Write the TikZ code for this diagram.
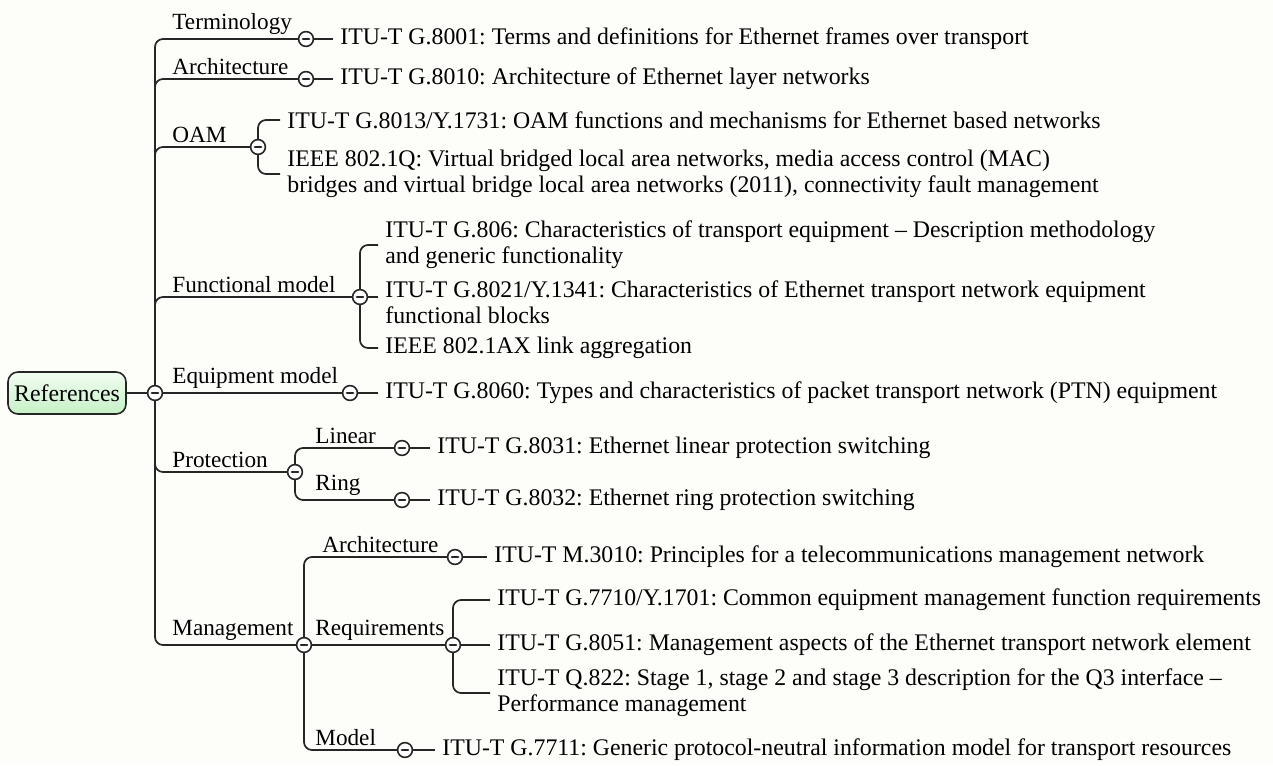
\documentclass[tikz,border=0pt]{standalone}
\usepackage{fontspec}
\setmainfont{Liberation Serif}
\definecolor{bg}{HTML}{FDFDFA}
\definecolor{lnc}{HTML}{262626}
\definecolor{gtop}{HTML}{F2FDF2}
\definecolor{gbot}{HTML}{C6F1C6}
\begin{document}
\frenchspacing
\begin{tikzpicture}[x=0.5pt,y=-0.5pt,
  every node/.style={font=\fontsize{11.9}{13}\selectfont\frenchspacing, text=black},
  conn/.style={draw=lnc, line width=0.85pt, rounded corners=4pt},
  tog/.style={circle, draw=lnc, fill=white, line width=0.8pt, minimum size=7.4pt, inner sep=0pt,
    path picture={\draw[line width=1.1pt, line cap=round]
      ([xshift=-1.6pt]path picture bounding box.center) -- ([xshift=1.6pt]path picture bounding box.center);}},
  lbl/.style={anchor=south west, inner xsep=0pt, inner ysep=2pt, font=\fontsize{11.6}{13}\selectfont},
  ref/.style={anchor=west, inner xsep=3.5pt, inner ysep=0pt, align=left},
  rootbox/.style={draw=lnc, line width=0.8pt, rounded corners=5pt, minimum width=59pt,
    minimum height=21pt, inner sep=0pt, top color=gtop, bottom color=gbot}]
\fill[bg] (0,0) rectangle (1273,765);

% root
\node[rootbox] (root) at (67,393) {References};
\node[tog] (rc) at (155,393) {};

% Terminology
\node[tog] (c1) at (306,39) {};
\node[lbl] (l1) at (172,39) {Terminology};
\node[ref] (t1) at (333,39) {ITU-T G.8001: Terms and definitions for Ethernet frames over transport};

% Architecture
\node[tog] (c2) at (306,79) {};
\node[lbl] (l2) at (172,79) {Architecture};
\node[ref] (t2) at (333,79) {ITU-T G.8010: Architecture of Ethernet layer networks};

% OAM
\node[tog] (c3) at (258,147) {};
\node[lbl] (l3) at (172,147) {OAM};
\node[ref] (t3a) at (280,120) {ITU-T G.8013/Y.1731: OAM functions and mechanisms for Ethernet based networks};
\node[ref] (t3b) at (280,174) {IEEE 802.1Q: Virtual bridged local area networks, media access control (MAC)\\bridges and virtual bridge local area networks (2011), connectivity fault management};

% Functional model
\node[tog] (c4) at (360,297) {};
\node[lbl] (l4) at (172,297) {Functional model};
\node[ref] (t4a) at (378,245) {ITU-T G.806: Characteristics of transport equipment -- Description methodology\\and generic functionality};
\node[ref] (t4b) at (378,302) {ITU-T G.8021/Y.1341: Characteristics of Ethernet transport network equipment\\functional blocks};
\node[ref] (t4c) at (378,348) {IEEE 802.1AX link aggregation};

% Equipment model
\node[tog] (c5) at (350,393) {};
\node[lbl] (l5) at (172,393) {Equipment model};
\node[ref] (t5) at (378,393) {ITU-T G.8060: Types and characteristics of packet transport network (PTN) equipment};

% Protection
\node[tog] (c6) at (295,472) {};
\node[lbl] (l6) at (172,472) {Protection};
\node[tog] (c6a) at (402,448) {};
\node[lbl] (l6a) at (315,448) {Linear};
\node[ref] (t6a) at (430,448) {ITU-T G.8031: Ethernet linear protection switching};
\node[tog] (c6b) at (402,500) {};
\node[lbl] (l6b) at (315,500) {Ring};
\node[ref] (t6b) at (430,500) {ITU-T G.8032: Ethernet ring protection switching};

% Management
\node[tog] (c7) at (304,645) {};
\node[lbl] (l7) at (172,645) {Management};
\node[tog] (c7a) at (455,557) {};
\node[lbl] (l7a) at (322,557) {Architecture};
\node[ref] (t7a) at (487,557) {ITU-T M.3010: Principles for a telecommunications management network};
\node[tog] (c7b) at (453,645) {};
\node[lbl] (l7b) at (315,645) {Requirements};
\node[ref] (t7b1) at (490,600) {ITU-T G.7710/Y.1701: Common equipment management function requirements};
\node[ref] (t7b2) at (490,645) {ITU-T G.8051: Management aspects of the Ethernet transport network element};
\node[ref] (t7b3) at (490,693) {ITU-T Q.822: Stage 1, stage 2 and stage 3 description for the Q3 interface --\\Performance management};
\node[tog] (c7c) at (405,750) {};
\node[lbl] (l7c) at (315,750) {Model};
\node[ref] (t7c) at (435,750) {ITU-T G.7711: Generic protocol-neutral information model for transport resources};

% connectors
\draw[conn] (root.east) -- (rc.west);
\draw[conn] (rc.north) |- (c1.west);
\draw[conn] (rc.north) |- (c2.west);
\draw[conn] (rc.north) |- (c3.west);
\draw[conn] (rc.north) |- (c4.west);
\draw[conn] (rc.east) -- (c5.west);
\draw[conn] (rc.south) |- (c6.west);
\draw[conn] (rc.south) |- (c7.west);

\draw[conn] (c1.east) -- (t1.west);
\draw[conn] (c2.east) -- (t2.west);
\draw[conn] (c3.north) |- (t3a.west);
\draw[conn] (c3.south) |- (t3b.west);
\draw[conn] (c4.north) |- (t4a.west);
\draw[conn] (c4.east) -- (t4b.west |- c4);
\draw[conn] (c4.south) |- (t4c.west);
\draw[conn] (c5.east) -- (t5.west);

\draw[conn] (c6.north) |- (c6a.west);
\draw[conn] (c6.south) |- (c6b.west);
\draw[conn] (c6a.east) -- (t6a.west);
\draw[conn] (c6b.east) -- (t6b.west);

\draw[conn] (c7.north) |- (c7a.west);
\draw[conn] (c7.east) -- (c7b.west);
\draw[conn] (c7.south) |- (c7c.west);
\draw[conn] (c7a.east) -- (t7a.west);
\draw[conn] (c7b.north) |- (t7b1.west);
\draw[conn] (c7b.east) -- (t7b2.west);
\draw[conn] (c7b.south) |- (t7b3.west);
\draw[conn] (c7c.east) -- (t7c.west);
\end{tikzpicture}
\end{document}
